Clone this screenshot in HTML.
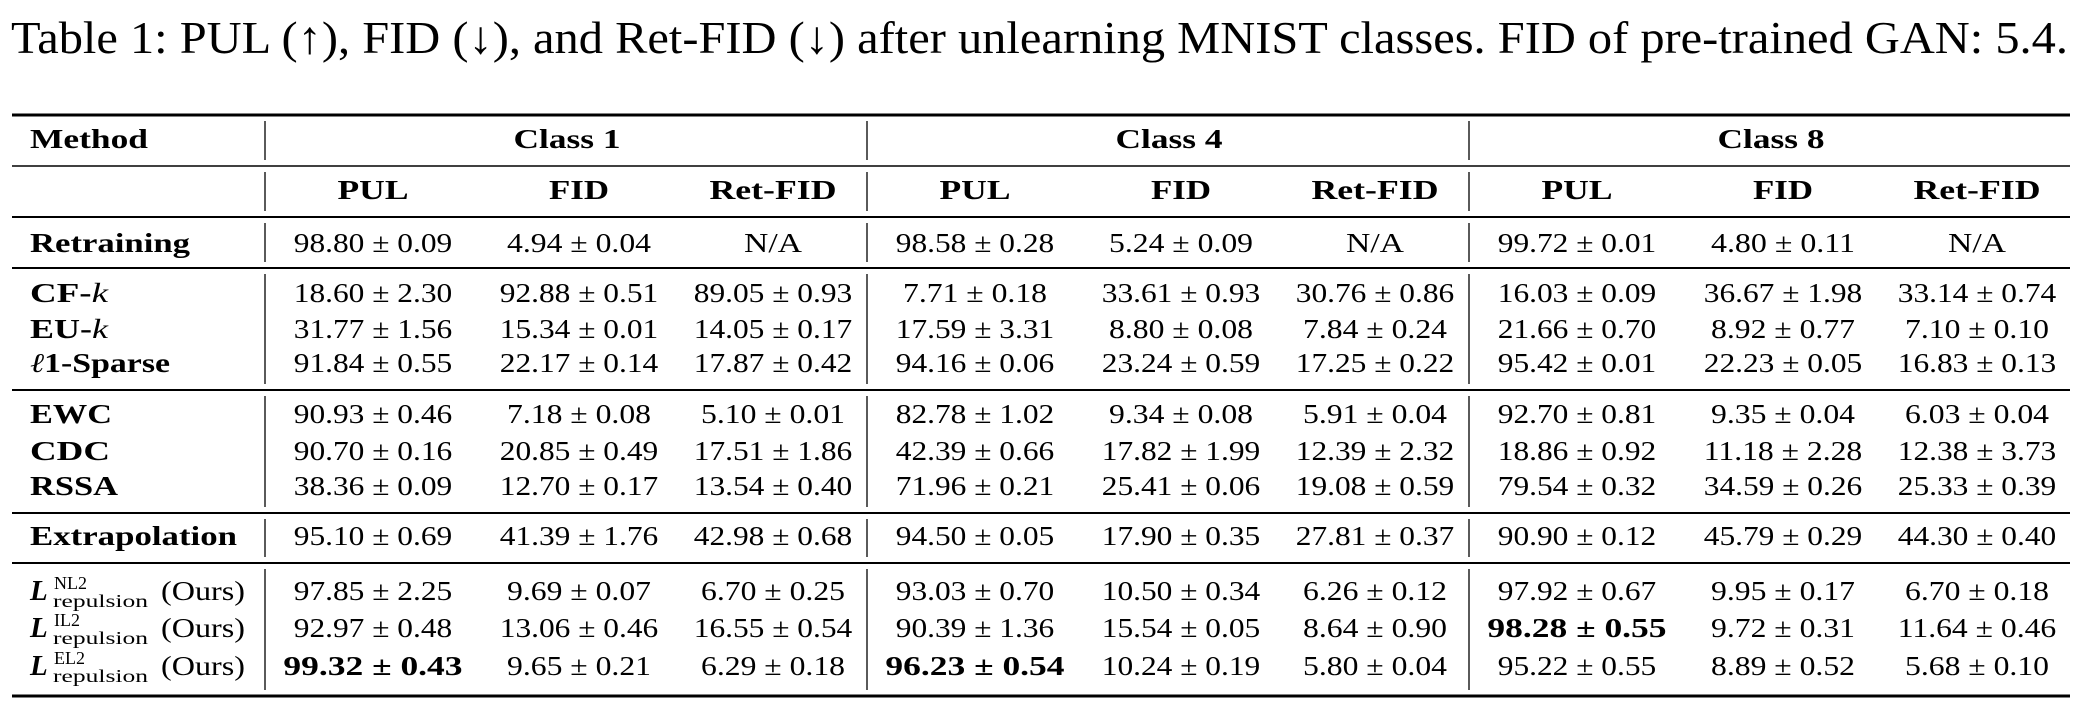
<!DOCTYPE html>
<html><head><meta charset="utf-8"><style>
html,body{margin:0;padding:0;background:#fff;}
svg{display:block;}
text{font-family:"Liberation Serif",serif;fill:#000;}
</style></head><body>
<svg id="tbl" width="2081" height="719" viewBox="0 0 2081 719" xmlns="http://www.w3.org/2000/svg">
<text x="11" y="53" font-size="46" textLength="2057" lengthAdjust="spacingAndGlyphs">Table 1: PUL (↑), FID (↓), and Ret-FID (↓) after unlearning MNIST classes. FID of pre-trained GAN: 5.4.</text>
</svg>
<script>
const classes = ["Class 1","Class 4","Class 8"];
const metrics = ["PUL","FID","Ret-FID"];
const methods = ["Retraining","CF-k","EU-k","l1-Sparse","EWC","CDC","RSSA","Extrapolation","NL2","IL2","EL2"];
const values = [
["98.80 ± 0.09","4.94 ± 0.04","N/A","98.58 ± 0.28","5.24 ± 0.09","N/A","99.72 ± 0.01","4.80 ± 0.11","N/A"],
["18.60 ± 2.30","92.88 ± 0.51","89.05 ± 0.93","7.71 ± 0.18","33.61 ± 0.93","30.76 ± 0.86","16.03 ± 0.09","36.67 ± 1.98","33.14 ± 0.74"],
["31.77 ± 1.56","15.34 ± 0.01","14.05 ± 0.17","17.59 ± 3.31","8.80 ± 0.08","7.84 ± 0.24","21.66 ± 0.70","8.92 ± 0.77","7.10 ± 0.10"],
["91.84 ± 0.55","22.17 ± 0.14","17.87 ± 0.42","94.16 ± 0.06","23.24 ± 0.59","17.25 ± 0.22","95.42 ± 0.01","22.23 ± 0.05","16.83 ± 0.13"],
["90.93 ± 0.46","7.18 ± 0.08","5.10 ± 0.01","82.78 ± 1.02","9.34 ± 0.08","5.91 ± 0.04","92.70 ± 0.81","9.35 ± 0.04","6.03 ± 0.04"],
["90.70 ± 0.16","20.85 ± 0.49","17.51 ± 1.86","42.39 ± 0.66","17.82 ± 1.99","12.39 ± 2.32","18.86 ± 0.92","11.18 ± 2.28","12.38 ± 3.73"],
["38.36 ± 0.09","12.70 ± 0.17","13.54 ± 0.40","71.96 ± 0.21","25.41 ± 0.06","19.08 ± 0.59","79.54 ± 0.32","34.59 ± 0.26","25.33 ± 0.39"],
["95.10 ± 0.69","41.39 ± 1.76","42.98 ± 0.68","94.50 ± 0.05","17.90 ± 0.35","27.81 ± 0.37","90.90 ± 0.12","45.79 ± 0.29","44.30 ± 0.40"],
["97.85 ± 2.25","9.69 ± 0.07","6.70 ± 0.25","93.03 ± 0.70","10.50 ± 0.34","6.26 ± 0.12","97.92 ± 0.67","9.95 ± 0.17","6.70 ± 0.18"],
["92.97 ± 0.48","13.06 ± 0.46","16.55 ± 0.54","90.39 ± 1.36","15.54 ± 0.05","8.64 ± 0.90","98.28 ± 0.55","9.72 ± 0.31","11.64 ± 0.46"],
["99.32 ± 0.43","9.65 ± 0.21","6.29 ± 0.18","96.23 ± 0.54","10.24 ± 0.19","5.80 ± 0.04","95.22 ± 0.55","8.89 ± 0.52","5.68 ± 0.10"]
];
const boldCells = [[10,0],[10,3],[9,6]];

const NS="http://www.w3.org/2000/svg";
const svg=document.getElementById('tbl');
const rowY=[252,302,338,372,423,460,495,545,600,637,675];
const colX=[373,579,773,975,1181,1375,1577,1783,1977];
const classX=[567,1169,1771];
const rules=[[115,3],[166,1.6],[217,2],[268,2],[390,2],[513,2],[563,2],[696,3]];
const vX=[265,867,1469];

function mk(tag,attrs,txt){
  const e=document.createElementNS(NS,tag);
  for(const k in attrs) e.setAttribute(k,attrs[k]);
  if(txt!==undefined) e.textContent=txt;
  svg.appendChild(e);
  return e;
}
function numWidth(s,bold){
  if(s==="N/A") return 58;
  let w=0;
  for(const c of s){
    if(c>='0'&&c<='9') w+=14.5;
    else if(c==='.') w+=8;
    else if(c==='±') w+=41;
  }
  return bold?w*1.13:w;
}

rules.forEach((r,i)=>{
  const l=mk('line',{x1:12,x2:2070,y1:r[0],y2:r[0],stroke:'#000','stroke-width':r[1]});
  
  
});
for(let i=0;i<rules.length-1;i++){
  vX.forEach((x,j)=>{
    const l=mk('line',{x1:x,x2:x,y1:rules[i][0]+6,y2:rules[i+1][0]-6,stroke:'#000','stroke-width':1.3});
    
    
  });
}

let t=mk('text',{x:30,y:148,'font-size':27,'font-weight':'bold',textLength:118,lengthAdjust:'spacingAndGlyphs'},'Method');


classes.forEach((c,i)=>{
  const e=mk('text',{x:classX[i],y:148,'font-size':27,'font-weight':'bold','text-anchor':'middle',textLength:107,lengthAdjust:'spacingAndGlyphs'},c);
  
  
  metrics.forEach((m,j)=>{
    const w={"PUL":71,"FID":60,"Ret-FID":127}[m];
    const h=mk('text',{x:colX[i*3+j],y:199,'font-size':27,'font-weight':'bold','text-anchor':'middle',textLength:w,lengthAdjust:'spacingAndGlyphs'},m);
    
    
  });
});

const labelW={"Retraining":160,"CF-k":78,"EU-k":78,"l1-Sparse":140,"EWC":82,"CDC":80,"RSSA":88,"Extrapolation":207};
methods.forEach((m,r)=>{
  const y=rowY[r];
  if(labelW[m]){
    const e=mk('text',{x:30,y:y,'font-size':27,'font-weight':'bold',textLength:labelW[m],lengthAdjust:'spacingAndGlyphs'});
    
    
    if(m==="CF-k"||m==="EU-k"){
      e.innerHTML=m.slice(0,3)+'<tspan font-style="italic" font-weight="normal">k</tspan>';
    } else if(m==="l1-Sparse"){
      e.innerHTML='<tspan font-style="italic" font-weight="normal">ℓ</tspan>1-Sparse';
    } else e.textContent=m;
  } else {
    const L=mk('text',{x:30,y:y,'font-size':29,'font-weight':'bold','font-style':'italic'},'L');
    
    
    const sp=mk('text',{x:54,y:y-11,'font-size':18},m);
    
    
    const sb=mk('text',{x:53,y:y+7,'font-size':18,textLength:95,lengthAdjust:'spacingAndGlyphs'},'repulsion');
    
    
    const o=mk('text',{x:161,y:y,'font-size':27,textLength:84,lengthAdjust:'spacingAndGlyphs'},'(Ours)');
    
    
  }
  values[r].forEach((v,c)=>{
    const bold=boldCells.some(b=>b[0]===r&&b[1]===c);
    const attrs={x:colX[c],y:y,'font-size':27,'text-anchor':'middle',textLength:numWidth(v,bold),lengthAdjust:'spacingAndGlyphs'};
    if(bold) attrs['font-weight']='bold';
    const e=mk('text',attrs,v);
    
    
  });
});
</script>
</body></html>
